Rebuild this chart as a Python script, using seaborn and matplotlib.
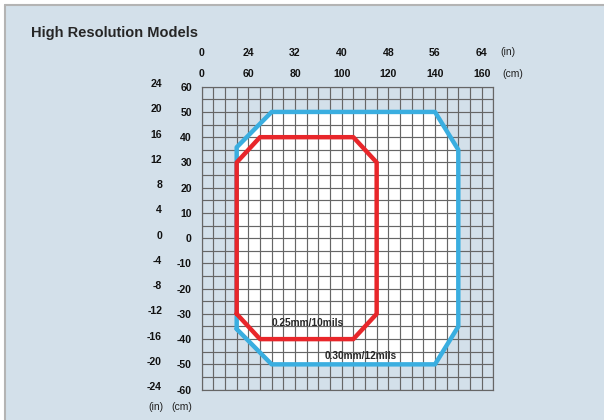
import numpy as np
import pandas as pd
import seaborn as sns
from matplotlib import pyplot as plt
from matplotlib.lines import Line2D
from matplotlib.patches import Rectangle
from matplotlib.transforms import ScaledTranslation

# reading range outlines (cm), x axis starts at 40 cm but is labelled "0"
blue_x = [55, 55, 70, 140, 150, 150, 140, 70, 55]
blue_y = [-36, 36, 50, 50, 35, -35, -50, -50, -36]
red_x = [55, 55, 65, 105, 115, 115, 105, 65, 55]
red_y = [-30, 30, 40, 40, 30, -30, -40, -40, -30]

x_cm_ticks = [40, 60, 80, 100, 120, 140, 160]
x_cm_labels = ["0", "60", "80", "100", "120", "140", "160"]
x_in_labels = ["0", "24", "32", "40", "48", "56", "64"]
y_cm_ticks = [60, 50, 40, 30, 20, 10, 0, -10, -20, -30, -40, -50, -60]
y_in_labels = ["24", "20", "16", "12", "8", "4", "0", "-4", "-8", "-12", "-16", "-20", "-24"]

BG = "#d3e0ea"
GRID = "#666666"
BLUE = "#3aaee0"
RED = "#e8262a"

sns.set_style("white")
plt.rcParams["font.family"] = ["Liberation Sans", "DejaVu Sans"]

W, H = 604, 420
fig = plt.figure(figsize=(W / 100, H / 100), dpi=100, facecolor=BG)

# white margin + grey frame on the top and left edges only
fig.patches.append(Rectangle((0, 0), 4 / W, 1, transform=fig.transFigure,
                             fc="white", lw=0, zorder=-5))
fig.patches.append(Rectangle((0, 1 - 4 / H), 1, 4 / H, transform=fig.transFigure,
                             fc="white", lw=0, zorder=-5))
fig.lines.append(Line2D([5 / W, 5 / W], [0, 1 - 5 / H], transform=fig.transFigure,
                        color="#b4b4b4", lw=1.5))
fig.lines.append(Line2D([5 / W, 1], [1 - 5 / H, 1 - 5 / H], transform=fig.transFigure,
                        color="#b4b4b4", lw=1.5))

ax = fig.add_axes([201.7 / W, 1 - 389.6 / H, 291.6 / W, 302.9 / H])
ax.set_facecolor(BG)

# white inside the outer outline
ax.fill(blue_x, blue_y, color="white", zorder=0.2, lw=0)

blue = pd.DataFrame({"x": blue_x, "y": blue_y})
red = pd.DataFrame({"x": red_x, "y": red_y})
sns.lineplot(data=blue, x="x", y="y", sort=False, estimator=None, color=BLUE,
             lw=3.2, ax=ax, zorder=3)
sns.lineplot(data=red, x="x", y="y", sort=False, estimator=None, color=RED,
             lw=3.2, ax=ax, zorder=4)

ax.set_xlim(40, 165)
ax.set_ylim(-60, 60)
ax.set_xticks(np.arange(40, 166, 5), minor=True)
ax.set_yticks(np.arange(-60, 61, 5), minor=True)
ax.set_axisbelow(True)
ax.grid(which="both", color=GRID, lw=0.85)
for s in ax.spines.values():
    s.set_color(GRID)
    s.set_linewidth(0.85)

tick_font = dict(fontsize=7.6, fontweight="bold", color="#111111")
ax.xaxis.tick_top()
ax.set_xticks(x_cm_ticks, labels=x_cm_labels, **tick_font)
ax.set_yticks(y_cm_ticks, labels=[str(v) for v in y_cm_ticks], **tick_font)
ax.tick_params(which="both", length=0)
ax.tick_params(axis="x", pad=5.5)
ax.tick_params(axis="y", pad=7)
ax.set(xlabel=None, ylabel=None)

sx = ax.secondary_xaxis("top")
sx.set_xticks(x_cm_ticks, labels=x_in_labels, **tick_font)
sx.tick_params(length=0, pad=21)
sx.spines["top"].set_visible(False)

sy = ax.secondary_yaxis("left")
sy.set_yticks(y_cm_ticks, labels=y_in_labels, **tick_font)
sy.tick_params(length=0, pad=28.5)
sy.spines["left"].set_visible(False)
# inch labels sit a little higher than the cm ones
lift = ScaledTranslation(0, 2.5 / 72, fig.dpi_scale_trans)
for lab in sy.get_yticklabels():
    lab.set_transform(lab.get_transform() + lift)

ax.text(70, -33.5, "0.25mm/10mils", fontsize=7.3, fontweight="bold",
        va="center", ha="left", zorder=5)
ax.text(92.5, -46.5, "0.30mm/12mils", fontsize=7.3, fontweight="bold",
        va="center", ha="left", zorder=5)

fig.text(31 / W, 1 - 33 / H, "High Resolution Models", fontsize=10.5,
         fontweight="bold", va="center", ha="left")
unit = dict(fontsize=7.5, va="center", ha="left", color="#222222")
fig.text(500 / W, 1 - 52 / H, "(in)", **unit)
fig.text(502 / W, 1 - 74 / H, "(cm)", **unit)
fig.text(148 / W, 1 - 407 / H, "(in)", **unit)
fig.text(171 / W, 1 - 407 / H, "(cm)", **unit)

plt.savefig("out.png", dpi=100, facecolor=fig.get_facecolor())
